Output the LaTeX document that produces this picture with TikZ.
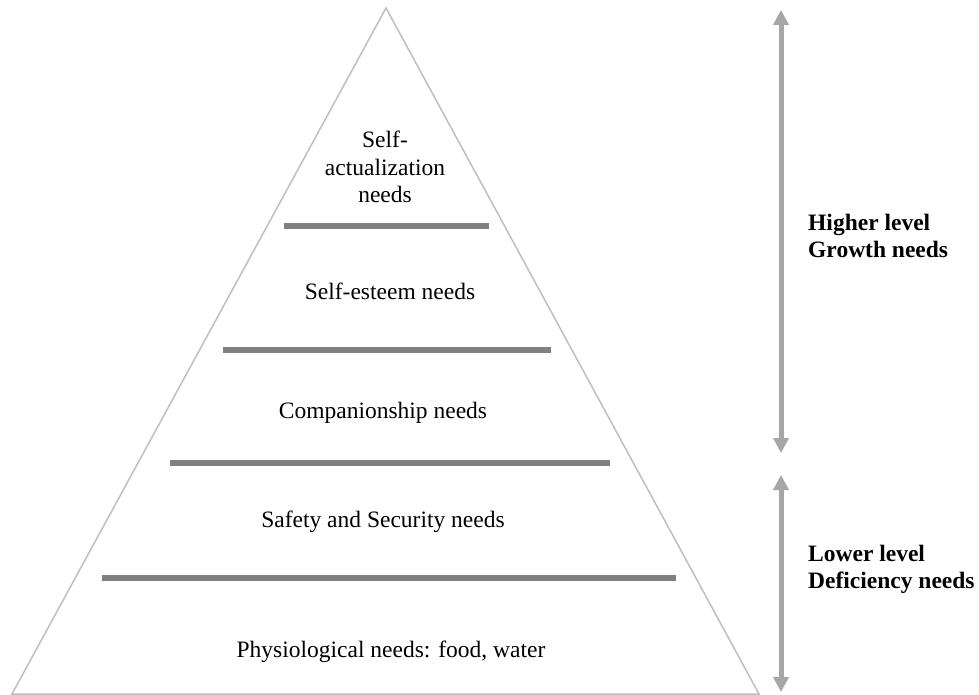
\documentclass[tikz,border=0pt]{standalone}
\usepackage{fontspec}
\setmainfont{Liberation Serif}
\usetikzlibrary{arrows.meta}

\begin{document}
\begin{tikzpicture}[x=1pt, y=-1pt,
    every node/.style={font=\fontsize{23.5}{27.5}\selectfont, inner sep=0pt, align=center},
    needtext/.style={anchor=base},
    sidelabel/.style={anchor=base west, align=left, font=\fontsize{23.5}{26.5}\selectfont\bfseries},
    divider/.style={draw=black!50, line width=6pt},
    span/.style={draw=black!35, line width=5pt, {Triangle[width=15pt,length=15pt]}-{Triangle[width=15pt,length=15pt]}}]

    \useasboundingbox (0,0) rectangle (979,695);

    % Pyramid
    \coordinate (apex) at (386,8);
    \coordinate (baseL) at (12,694);
    \coordinate (baseR) at (759,694);
    \draw[black!25, line width=1.5pt] (apex) -- (baseL) -- (baseR) -- cycle;

    % Dividers
    \draw[divider] (284,226) -- (489,226);
    \draw[divider] (223,350) -- (551,350);
    \draw[divider] (170,463) -- (610,463);
    \draw[divider] (102,578) -- (676,578);

    % Levels
    \node[needtext] (selfact) at (385,203) {Self-\\actualization\\needs};
    \node[needtext] (esteem) at (390,299) {Self-esteem needs};
    \node[needtext] (companion) at (383,418) {Companionship needs};
    \node[needtext] (safety) at (383,527) {Safety and Security needs};
    \node[needtext] (physio) at (391,657) {Physiological needs: food, water};

    % Arrows
    \coordinate (hightop) at (781,10);
    \coordinate (highbot) at (781,453);
    \coordinate (lowtop) at (781,475);
    \coordinate (lowbot) at (781,692);
    \draw[span] (hightop) -- (highbot);
    \draw[span] (lowtop) -- (lowbot);

    % Side labels
    \node[sidelabel] (growth) at (808,257) {Higher level\\Growth needs};
    \node[sidelabel] (deficiency) at (808,588) {Lower level\\Deficiency needs};

\end{tikzpicture}
\end{document}
